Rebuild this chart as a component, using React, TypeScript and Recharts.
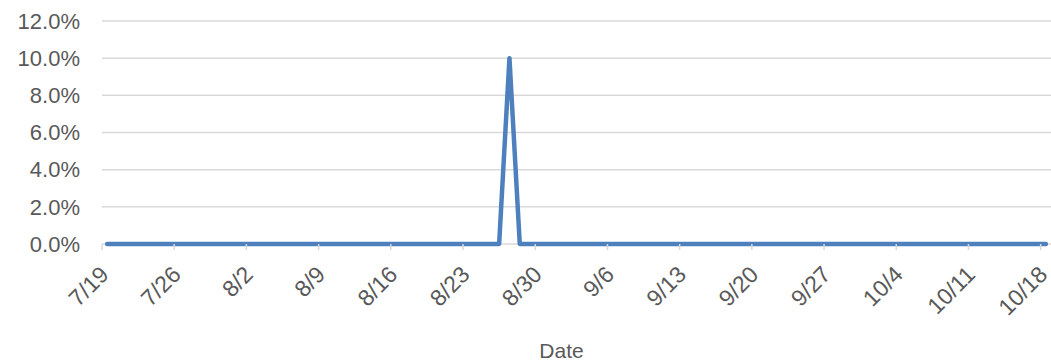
import { LineChart, Line, XAxis, YAxis, CartesianGrid } from "recharts"

// one value per day, 7/19 .. 10/18
const DAY_LABELS = [
    "7/19", "7/20", "7/21", "7/22", "7/23", "7/24", "7/25", "7/26", "7/27", "7/28", "7/29", "7/30", "7/31",
    "8/1", "8/2", "8/3", "8/4", "8/5", "8/6", "8/7", "8/8", "8/9", "8/10", "8/11", "8/12", "8/13", "8/14",
    "8/15", "8/16", "8/17", "8/18", "8/19", "8/20", "8/21", "8/22", "8/23", "8/24", "8/25", "8/26", "8/27",
    "8/28", "8/29", "8/30", "8/31", "9/1", "9/2", "9/3", "9/4", "9/5", "9/6", "9/7", "9/8", "9/9", "9/10",
    "9/11", "9/12", "9/13", "9/14", "9/15", "9/16", "9/17", "9/18", "9/19", "9/20", "9/21", "9/22", "9/23",
    "9/24", "9/25", "9/26", "9/27", "9/28", "9/29", "9/30", "10/1", "10/2", "10/3", "10/4", "10/5", "10/6",
    "10/7", "10/8", "10/9", "10/10", "10/11", "10/12", "10/13", "10/14", "10/15", "10/16", "10/17", "10/18",
]

// same order as DAY_LABELS (13 per row), spike on 8/27
const RATE = [
    0, 0, 0, 0, 0, 0, 0, 0, 0, 0, 0, 0, 0,
    0, 0, 0, 0, 0, 0, 0, 0, 0, 0, 0, 0, 0,
    0, 0, 0, 0, 0, 0, 0, 0, 0, 0, 0, 0, 0,
    0.1, 0, 0, 0, 0, 0, 0, 0, 0, 0, 0, 0, 0,
    0, 0, 0, 0, 0, 0, 0, 0, 0, 0, 0, 0, 0,
    0, 0, 0, 0, 0, 0, 0, 0, 0, 0, 0, 0, 0,
    0, 0, 0, 0, 0, 0, 0, 0, 0, 0, 0, 0, 0, 0,
]

const X_TICKS = [0, 7, 14, 21, 28, 35, 42, 49, 56, 63, 70, 77, 84, 91]
const Y_TICKS = [0, 0.02, 0.04, 0.06, 0.08, 0.1, 0.12]

const data = RATE.map((v, i) => ({ day: i + 0.5, rate: v }))

const FONT = "'Liberation Sans', Arial, sans-serif"
const TEXT = "#595959"

function DateTick({ x, y, payload }: any) {
    return (
        <g transform={`translate(${x + 8},${y + 24})`}>
            <text
                x={0}
                y={0}
                textAnchor="end"
                transform="rotate(-45)"
                fill={TEXT}
                fontSize={23}
                fontFamily={FONT}
            >
                {DAY_LABELS[payload.value]}
            </text>
        </g>
    )
}

export default function App() {
    return (
        <div style={{ position: "absolute", left: 0, top: 0, background: "#fff" }}>
            <LineChart
                width={1051}
                height={362}
                data={data}
                margin={{ top: 21, right: 0, left: 0, bottom: 0 }}
            >
                <CartesianGrid vertical={false} stroke="#d9d9d9" strokeWidth={1.5} />
                <XAxis
                    dataKey="day"
                    type="number"
                    domain={[0, 92]}
                    ticks={X_TICKS}
                    interval={0}
                    height={118}
                    tick={<DateTick />}
                    tickSize={6}
                    axisLine={false}
                    tickLine={{ stroke: "#d9d9d9", strokeWidth: 1.5 }}
                    label={{
                        value: "Date",
                        position: "insideBottom",
                        offset: 4,
                        dx: -15,
                        fill: TEXT,
                        fontSize: 21,
                        fontFamily: FONT,
                    }}
                />
                <YAxis
                    type="number"
                    domain={[0, 0.12]}
                    ticks={Y_TICKS}
                    width={102}
                    axisLine={false}
                    tickLine={false}
                    tickSize={0}
                    tickMargin={22}
                    tickFormatter={(v: number) => (v * 100).toFixed(1) + "%"}
                    tick={{ fill: TEXT, fontSize: 22, fontFamily: FONT }}
                />
                <Line
                    type="linear"
                    dataKey="rate"
                    stroke="#4e80bd"
                    strokeWidth={4.5}
                    strokeLinecap="round"
                    strokeLinejoin="round"
                    dot={false}
                    isAnimationActive={false}
                />
            </LineChart>
        </div>
    )
}
